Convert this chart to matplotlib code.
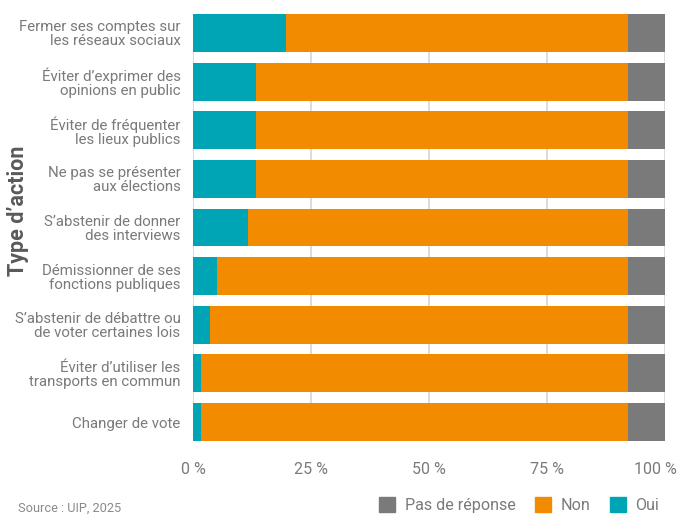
import numpy as np
import matplotlib
matplotlib.use("Agg")
import matplotlib.pyplot as plt
import matplotlib.transforms as mtransforms
from matplotlib.patches import Patch

plt.rcParams['font.family'] = ['Roboto', 'DejaVu Sans']

actions = [
    "Fermer ses comptes sur\nles réseaux sociaux",
    "Éviter d’exprimer des\nopinions en public",
    "Éviter de fréquenter\nles lieux publics",
    "Ne pas se présenter\naux élections",
    "S’abstenir de donner\ndes interviews",
    "Démissionner de ses\nfonctions publiques",
    "S’abstenir de débattre ou\nde voter certaines lois",
    "Éviter d’utiliser les\ntransports en commun",
    "Changer de vote",
]
oui = [19.7, 13.3, 13.3, 13.3, 11.7, 5.1, 3.6, 1.7, 1.7]
pas_de_reponse = [7.8] * 9
non = [100 - o - p for o, p in zip(oui, pas_de_reponse)]
xticks = [0, 25, 50, 75, 100]
xtick_labels = ["0 %", "25 %", "50 %", "75 %", "100 %"]

c_oui = "#00A5B5"
c_non = "#F28B00"
c_pdr = "#7A7A7A"
txt = "#7A7A7A"

fig = plt.figure(figsize=(6.81, 5.14), dpi=100)
ax = fig.add_axes([193 / 681, 1 - 441 / 514, (665 - 193) / 681, (441 - 14) / 514])

y = np.arange(len(actions))
h = 0.78
ax.barh(y, oui, height=h, color=c_oui, zorder=2)
ax.barh(y, non, left=oui, height=h, color=c_non, zorder=2)
ax.barh(y, pas_de_reponse, left=np.array(oui) + np.array(non), height=h, color=c_pdr, zorder=2)

ax.set_xlim(0, 100)
ax.set_ylim(len(actions) - 1 + h / 2, -h / 2)
ax.set_yticks(y)
ax.set_yticklabels(actions, fontsize=10.8, color=txt, linespacing=1.0)
ax.set_xticks(xticks)
ax.set_xticklabels(xtick_labels, fontsize=11.5, color=txt)
ax.tick_params(axis='both', length=0)
ax.tick_params(axis='y', pad=9)
ax.tick_params(axis='x', pad=15)
for s in ax.spines.values():
    s.set_visible(False)
ax.grid(axis='x', color="#D6D6D6", linewidth=1.2, zorder=0)

# keep the 100 % label inside the figure
last = ax.get_xticklabels()[-1]
last.set_transform(last.get_transform() + mtransforms.ScaledTranslation(-10 / 100, 0, fig.dpi_scale_trans))

fig.text(18 / 681, 1 - 211 / 514, "Type d’action", rotation=90, ha='center', va='center',
         fontsize=15.5, fontweight='bold', color="#5A5A5A")
fig.text(18 / 681, 1 - 508 / 514, "Source : UIP, 2025", ha='left', va='center',
         fontsize=9.2, color="#8A8A8A")

handles = [Patch(color=c_pdr), Patch(color=c_non), Patch(color=c_oui)]
leg = fig.legend(handles, ["Pas de réponse", "Non", "Oui"], ncol=3, loc='center right',
                 bbox_to_anchor=(674 / 681, 1 - 505 / 514), frameon=False, fontsize=11.6,
                 handlelength=1.0, handleheight=1.0, handletextpad=0.6, columnspacing=1.2)
for t in leg.get_texts():
    t.set_color(txt)

fig.savefig("out.png", dpi=100)
